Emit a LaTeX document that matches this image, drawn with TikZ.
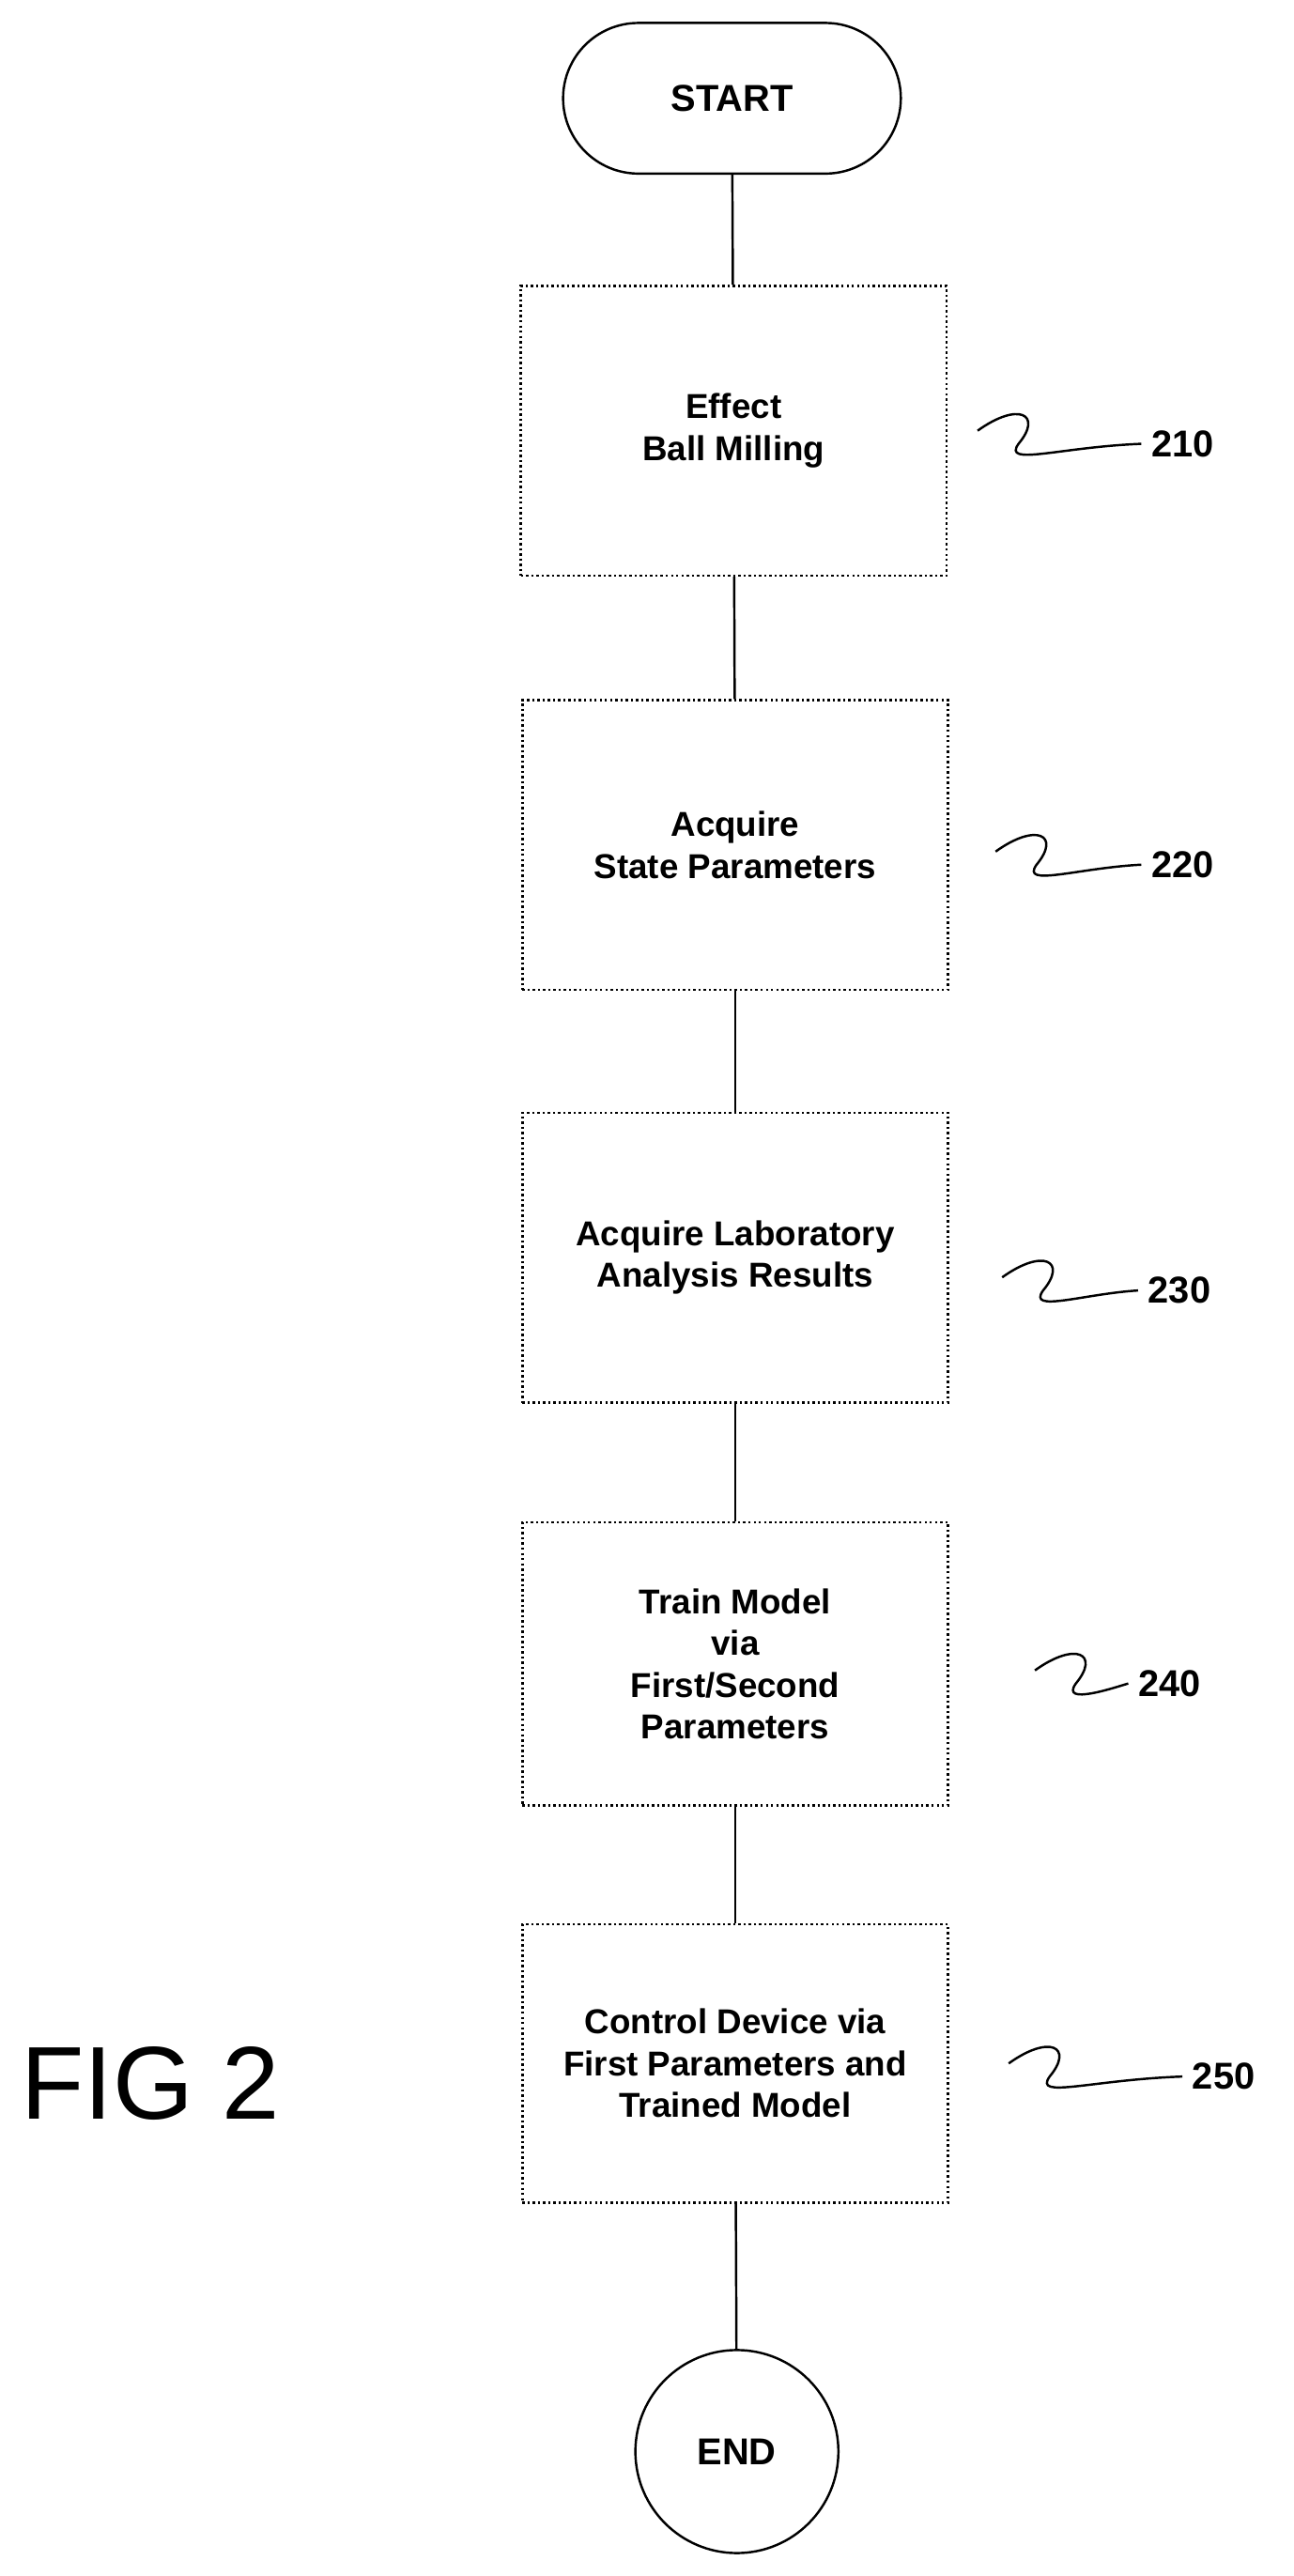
\documentclass[tikz,border=0pt]{standalone}
\usepackage{fontspec}
\setmainfont{Liberation Sans}
\usetikzlibrary{shapes.misc}
\tikzset{
  stage/.style={draw, thick, densely dotted, minimum width=5.2cm, minimum height=3.5cm, align=center, font=\bfseries\fontsize{12}{14.5}\selectfont},
  term/.style={draw, thick, font=\bfseries\fontsize{13}{15}\selectfont},
  ref/.style={font=\bfseries\fontsize{13}{15}\selectfont, anchor=west},
  wave/.style={thick}
}
\begin{document}
\begin{tikzpicture}[x=0.02cm, y=-0.02cm]
\useasboundingbox (0,0) rectangle (790,1573);

\node[term, rounded rectangle, minimum width=4.36cm, minimum height=1.84cm] (start) at (447,60) {START};
\node[stage, minimum height=3.54cm] (s210) at (448,263) {Effect\\Ball Milling};
\node[stage, minimum height=3.54cm] (s220) at (449,516) {Acquire\\State Parameters};
\node[stage, minimum height=3.54cm] (s230) at (449,768) {Acquire Laboratory\\Analysis Results};
\node[stage, minimum height=3.46cm] (s240) at (449,1016) {Train Model\\via\\First/Second\\Parameters};
\node[stage, minimum height=3.4cm] (s250) at (449,1260) {Control Device via\\First Parameters and\\Trained Model};
\node[term, circle, minimum size=2.48cm] (end) at (450,1497) {END};

\draw[thick] (start) -- (s210);
\draw[thick] (s210) -- (s220);
\draw[thick] (s220) -- (s230);
\draw[thick] (s230) -- (s240);
\draw[thick] (s240) -- (s250);
\draw[thick] (s250) -- (end);

% reference numerals
\foreach \n/\x/\y/\w in {210/597/263/697, 220/608/520/697, 230/612/780/695, 240/632/1020/689, 250/616/1260/722} {
  \node[ref] (r\n) at (\w,\y+8) {\n};
  \coordinate (w\n) at (\x,\y);
  \draw[wave] (w\n) .. controls (\x+25,\y-18) and (\x+40,\y-10) .. (\x+25,\y+8)
    .. controls (\x+15,\y+22) and (\x+50,\y+10) .. (r\n.west);
}

\node[font=\fontsize{36}{40}\selectfont] (fig) at (92,1272) {FIG 2};
\end{tikzpicture}
\end{document}
